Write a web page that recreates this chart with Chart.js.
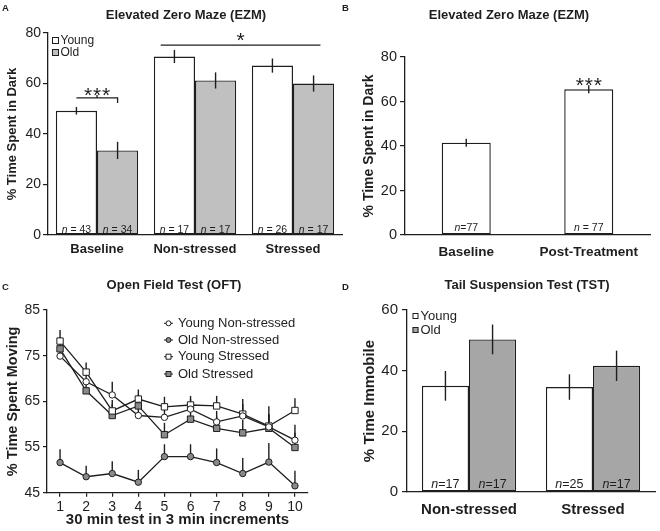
<!DOCTYPE html>
<html><head><meta charset="utf-8">
<script src="https://cdn.jsdelivr.net/npm/chart.js@4.4.1/dist/chart.umd.min.js"></script>
<style>
html,body{margin:0;padding:0;background:#fff;}
#wrap{position:relative;width:660px;height:531px;overflow:hidden;background:#fff;}
canvas{position:absolute;}
</style></head><body>
<div id="wrap">
<canvas id="cA" width="345" height="268" style="left:0;top:0"></canvas>
<canvas id="cB" width="330" height="268" style="left:330px;top:0"></canvas>
<canvas id="cC" width="330" height="261" style="left:0;top:270px"></canvas>
<canvas id="cD" width="330" height="261" style="left:330px;top:270px"></canvas>
</div>
<script>
// ---------- DATA ----------
// Panel A: Elevated Zero Maze (EZM)
const aCategories = ['Baseline', 'Non-stressed', 'Stressed'];
const aYoung = [49.2, 70.7, 67.1];
const aYoungErr = [1.5, 2.6, 2.8];
const aOld = [33.5, 61.2, 60.0];
const aOldErr = [3.4, 3.2, 3.2];
const aYoungN = ['43', '17', '26'];
const aOldN = ['34', '17', '17'];
const aTicks = [0, 20, 40, 60, 80];

// Panel B: Elevated Zero Maze (EZM)
const bCategories = ['Baseline', 'Post-Treatment'];
const bValues = [41.5, 65.5];
const bErr = [1.8, 1.8];
const bN = ['n=77', 'n = 77'];
const bTicks = [0, 20, 40, 60, 80];

// Panel C: Open Field Test (OFT)
const cIntervals = ['1', '2', '3', '4', '5', '6', '7', '8', '9', '10'];
const cYoungNonStressed = [74.9, 69.3, 66.4, 61.9, 61.5, 63.3, 60.5, 61.8, 59.4, 56.5];
const cYoungNonStressedErr = [2.3, 2.3, 2.9, 2.3, 2.3, 2.2, 2.4, 2.6, 2.8, 3.4];
const cOldNonStressed = [51.6, 48.5, 49.2, 47.3, 52.9, 52.9, 51.6, 49.2, 51.7, 46.5];
const cOldNonStressedErr = [2.9, 2.4, 2.7, 2.7, 2.7, 2.7, 3.1, 3.4, 4.2, 3.3];
const cYoungStressed = [78.2, 71.4, 62.9, 65.5, 63.8, 64.2, 64.0, 62.2, 59.6, 63.0];
const cYoungStressedErr = [2.4, 2.1, 2.4, 2.1, 2.2, 2.0, 2.2, 3.3, 4.3, 2.7];
const cOldStressed = [76.5, 67.3, 61.9, 64.0, 57.7, 61.1, 59.1, 58.1, 59.1, 54.9];
const cOldStressedErr = [2.5, 2.4, 2.5, 2.5, 2.6, 2.4, 2.6, 2.8, 3.0, 3.2];
const cTicks = [45, 55, 65, 75, 85];

// Panel D: Tail Suspension Test (TST)
const dCategories = ['Non-stressed', 'Stressed'];
const dYoung = [35.0, 34.6];
const dYoungErr = [4.9, 4.2];
const dOld = [50.3, 41.6];
const dOldErr = [4.9, 5.0];
const dYoungN = ['17', '25'];
const dOldN = ['17', '17'];
const dTicks = [0, 20, 40, 60];

// ---------- STYLE HELPERS ----------
const INK = '#1e1e1e';
const FAM = '"Liberation Sans", Arial, Helvetica, sans-serif';
Chart.defaults.font.family = FAM;
Chart.defaults.color = INK;
function F(size, weight, style) { return (style || 'normal') + ' ' + (weight || 'normal') + ' ' + size + 'px ' + FAM; }

function txt(ctx, s, x, y, f, align) {
  ctx.font = f; ctx.fillStyle = INK; ctx.textAlign = align || 'center'; ctx.textBaseline = 'middle';
  ctx.fillText(s, x, y);
}
function glyphCentered(ctx, s, x, cy, f) {
  ctx.font = f; ctx.fillStyle = INK; ctx.textAlign = 'center'; ctx.textBaseline = 'alphabetic';
  const m = ctx.measureText(s);
  ctx.fillText(s, x, cy + (m.actualBoundingBoxAscent - m.actualBoundingBoxDescent) / 2);
}
function stars(ctx, n, x, cy, size, gap) {
  const total = (n - 1) * gap;
  for (let i = 0; i < n; i++) glyphCentered(ctx, '*', x - total / 2 + i * gap, cy, F(size));
}
function nLabel(ctx, rest, x, y, size) {
  ctx.textBaseline = 'middle'; ctx.fillStyle = INK;
  ctx.font = F(size, 'normal', 'italic'); const w1 = ctx.measureText('n').width;
  ctx.font = F(size); const w2 = ctx.measureText(rest).width;
  const x0 = x - (w1 + w2) / 2;
  ctx.textAlign = 'left';
  ctx.font = F(size, 'normal', 'italic'); ctx.fillText('n', x0, y);
  ctx.font = F(size); ctx.fillText(rest, x0 + w1, y);
}
function box(ctx, x, y, w, h, fill) {
  ctx.fillStyle = fill; ctx.fillRect(x, y, w, h);
  ctx.strokeStyle = INK; ctx.lineWidth = 1; ctx.strokeRect(x + 0.5, y + 0.5, w - 1, h - 1);
}

function yScale(ticks, tickSize, title, titleSize, titlePad, width, tickLen, tickPad) {
  return {
    min: ticks[0], max: ticks[ticks.length - 1],
    afterBuildTicks(s) { s.ticks = ticks.map(v => ({ value: v })); },
    ticks: { font: { size: tickSize }, padding: tickPad, color: INK },
    grid: { display: true, drawOnChartArea: false, drawTicks: true, tickLength: tickLen, color: INK, lineWidth: 1.2 },
    border: { display: true, color: INK, width: 1.3 },
    title: { display: true, text: title, color: INK, font: { size: titleSize, weight: 'bold' }, padding: { top: titlePad, bottom: 0 } },
    afterFit(s) { s.width = width; }
  };
}
function xCat(size, pad, height) {
  return {
    grid: { display: false, drawTicks: false },
    border: { display: true, color: INK, width: 1.3 },
    ticks: { font: { size: size, weight: 'bold' }, padding: pad, color: INK },
    afterFit(s) { s.height = height; }
  };
}
function barDs(label, data, fill, catPct, barPct) {
  return { label, data, backgroundColor: fill, borderColor: INK, borderWidth: 1.4, borderSkipped: false,
    categoryPercentage: catPct, barPercentage: barPct };
}
function errPlugin(errs, upOnly, before) {
  const draw = function (chart) {
    const ctx = chart.ctx, ys = chart.scales.y;
    ctx.save(); ctx.strokeStyle = INK; ctx.lineWidth = 1.4;
    chart.data.datasets.forEach((ds, di) => {
      const meta = chart.getDatasetMeta(di);
      meta.data.forEach((el, i) => {
        const v = ds.data[i], e = errs[di][i];
        const y1 = ys.getPixelForValue(v + e), y2 = ys.getPixelForValue(upOnly ? v : v - e);
        ctx.beginPath(); ctx.moveTo(el.x, y1); ctx.lineTo(el.x, y2); ctx.stroke();
      });
    });
    ctx.restore();
  };
  return before ? { id: 'errB', beforeDatasetsDraw: draw } : { id: 'errA', afterDatasetsDraw: draw };
}
const base = { responsive: false, animation: false, events: [],
  plugins: { legend: { display: false }, tooltip: { enabled: false }, title: { display: false } } };

// ---------- PANEL A ----------
new Chart(document.getElementById('cA'), {
  type: 'bar',
  data: { labels: aCategories, datasets: [
    barDs('Young', aYoung, '#ffffff', 0.84, 1.0),
    barDs('Old', aOld, '#c0c0c0', 0.84, 1.0)] },
  options: Object.assign({}, base, {
    layout: { padding: { top: 33, right: 3, bottom: 0, left: 0 } },
    scales: { x: xCat(13, 7, 33), y: yScale(aTicks, 14, '% Time Spent in Dark', 13, 4.2, 48, 5, 2) }
  }),
  plugins: [errPlugin([aYoungErr, aOldErr], false, false), {
    id: 'decoA',
    afterDraw(chart) {
      const ctx = chart.ctx, ys = chart.scales.y, xs = chart.scales.x;
      const m0 = chart.getDatasetMeta(0).data, m1 = chart.getDatasetMeta(1).data;
      ctx.save();
      txt(ctx, 'A', 2, 8, F(9.5, 'bold'), 'left');
      txt(ctx, 'Elevated Zero Maze (EZM)', 186, 15, F(13, 'bold'));
      // legend
      box(ctx, 52, 37, 7, 7, '#ffffff'); txt(ctx, 'Young', 60.5, 41, F(12), 'left');
      box(ctx, 52, 49, 7, 7, '#c0c0c0'); txt(ctx, 'Old', 60.5, 53, F(12), 'left');
      // n labels
      m0.forEach((el, i) => nLabel(ctx, ' = ' + aYoungN[i], el.x, 230, 10.5));
      m1.forEach((el, i) => nLabel(ctx, ' = ' + aOldN[i], el.x, 230, 10.5));
      // *** bracket baseline
      ctx.strokeStyle = INK; ctx.lineWidth = 1.3;
      const by = ys.getPixelForValue(54.3), bx1 = m0[0].x, bx2 = m1[0].x;
      ctx.beginPath(); ctx.moveTo(bx1, by); ctx.lineTo(bx2, by); ctx.lineTo(bx2, by + 5); ctx.stroke();
      const mid = (bx1 + bx2) / 2;
      ctx.beginPath(); ctx.moveTo(mid, by); ctx.lineTo(mid, by - 3); ctx.stroke();
      stars(ctx, 3, mid, ys.getPixelForValue(56.8), 21, 9);
      // * line over treatment groups
      const cw = xs.getPixelForValue(1) - xs.getPixelForValue(0);
      const lx1 = xs.getPixelForValue(1) - 0.35 * cw, lx2 = xs.getPixelForValue(2) + 0.28 * cw;
      const ly = ys.getPixelForValue(75.2);
      ctx.beginPath(); ctx.moveTo(lx1, ly); ctx.lineTo(lx2, ly); ctx.stroke();
      stars(ctx, 1, (lx1 + lx2) / 2, ys.getPixelForValue(78.3), 21, 9);
      ctx.restore();
    }
  }]
});

// ---------- PANEL B ----------
new Chart(document.getElementById('cB'), {
  type: 'bar',
  data: { labels: bCategories, datasets: [barDs('EZM', bValues, '#ffffff', 0.4, 1.0)] },
  options: Object.assign({}, base, {
    layout: { padding: { top: 57, right: 10, bottom: 0, left: 0 } },
    scales: { x: xCat(13.5, 9, 33), y: yScale(bTicks, 14.5, '% Time Spent in Dark', 14, 30.6, 75, 5, 3) }
  }),
  plugins: [errPlugin([bErr], false, false), {
    id: 'decoB',
    afterDraw(chart) {
      const ctx = chart.ctx, ys = chart.scales.y;
      const m0 = chart.getDatasetMeta(0).data;
      ctx.save();
      txt(ctx, 'B', 12, 8, F(9.5, 'bold'), 'left');
      txt(ctx, 'Elevated Zero Maze (EZM)', 179, 15, F(13, 'bold'));
      m0.forEach((el, i) => nLabel(ctx, bN[i].slice(1), el.x, 228.5, 10.5));
      stars(ctx, 3, m0[1].x, ys.getPixelForValue(68.9), 21, 9);
      ctx.restore();
    }
  }]
});

// ---------- PANEL C ----------
const grayMk = '#8a8a8a';
function lineDs(label, data, style, fill, r) {
  return { label, data, borderColor: INK, borderWidth: 1.3, fill: false, tension: 0,
    pointStyle: style, pointRadius: r, pointBackgroundColor: fill, pointBorderColor: INK, pointBorderWidth: 1 };
}
const cSeries = [
  { label: 'Young Non-stressed', style: 'circle', fill: '#ffffff' },
  { label: 'Old Non-stressed', style: 'circle', fill: grayMk },
  { label: 'Young Stressed', style: 'rect', fill: '#ffffff' },
  { label: 'Old Stressed', style: 'rect', fill: grayMk }
];
new Chart(document.getElementById('cC'), {
  type: 'line',
  data: { labels: cIntervals, datasets: [
    lineDs(cSeries[0].label, cYoungNonStressed, 'circle', '#ffffff', 3.2),
    lineDs(cSeries[1].label, cOldNonStressed, 'circle', grayMk, 3.2),
    lineDs(cSeries[2].label, cYoungStressed, 'rect', '#ffffff', 4.5),
    lineDs(cSeries[3].label, cOldStressed, 'rect', grayMk, 4.5)] },
  options: Object.assign({}, base, {
    layout: { padding: { top: 40, right: 22, bottom: 0, left: 0 } },
    scales: {
      x: {
        offset: true,
        grid: { display: true, drawOnChartArea: false, drawTicks: true, tickLength: 4, color: INK, lineWidth: 1.2, offset: false },
        border: { display: true, color: INK, width: 1.3 },
        ticks: { font: { size: 14 }, padding: 2, color: INK, autoSkip: false, maxRotation: 0 },
        title: { display: true, text: '30 min test in 3 min increments', color: INK, font: { size: 15, weight: 'bold' }, padding: { top: 0, bottom: 2 } },
        afterFit(s) { s.height = 38.3; }
      },
      y: yScale(cTicks, 14, '% Time Spent Moving', 14.5, 4.3, 47, 4, 3)
    }
  }),
  plugins: [errPlugin([cYoungNonStressedErr, cOldNonStressedErr, cYoungStressedErr, cOldStressedErr], true, true), {
    id: 'decoC',
    afterDraw(chart) {
      const ctx = chart.ctx;
      ctx.save();
      txt(ctx, 'C', 2, 17, F(9.5, 'bold'), 'left');
      txt(ctx, 'Open Field Test (OFT)', 174, 15, F(13, 'bold'));
      const ys = [53.3, 70, 86.7, 104];
      cSeries.forEach((s, i) => {
        const y = ys[i];
        ctx.strokeStyle = INK; ctx.lineWidth = 1;
        ctx.beginPath(); ctx.moveTo(164, y); ctx.lineTo(173, y); ctx.stroke();
        ctx.fillStyle = s.fill; ctx.beginPath();
        if (s.style === 'circle') ctx.arc(168.5, y, 2.5, 0, Math.PI * 2);
        else ctx.rect(166, y - 2.5, 5, 5);
        ctx.fill(); ctx.stroke();
        txt(ctx, s.label, 178, y, F(13), 'left');
      });
      ctx.restore();
    }
  }]
});

// ---------- PANEL D ----------
new Chart(document.getElementById('cD'), {
  type: 'bar',
  data: { labels: dCategories, datasets: [
    barDs('Young', dYoung, '#ffffff', 0.76, 1.0),
    barDs('Old', dOld, '#a6a6a6', 0.76, 1.0)] },
  options: Object.assign({}, base, {
    layout: { padding: { top: 40, right: 5, bottom: 0, left: 0 } },
    scales: { x: xCat(15, 9, 39), y: yScale(dTicks, 15, '% Time Immobile', 15, 31, 77, 5, 4) }
  }),
  plugins: [errPlugin([dYoungErr, dOldErr], false, false), {
    id: 'decoD',
    afterDraw(chart) {
      const ctx = chart.ctx;
      const m0 = chart.getDatasetMeta(0).data, m1 = chart.getDatasetMeta(1).data;
      ctx.save();
      txt(ctx, 'D', 12, 17, F(9.5, 'bold'), 'left');
      txt(ctx, 'Tail Suspension Test (TST)', 197, 15, F(13, 'bold'));
      box(ctx, 82.5, 43, 6, 6, '#ffffff'); txt(ctx, 'Young', 90.5, 46.5, F(13), 'left');
      box(ctx, 82.5, 57, 6, 6, '#a6a6a6'); txt(ctx, 'Old', 90.5, 60.5, F(13), 'left');
      m0.forEach((el, i) => nLabel(ctx, '=' + dYoungN[i], el.x, 215, 12.5));
      m1.forEach((el, i) => nLabel(ctx, '=' + dOldN[i], el.x, 215, 12.5));
      ctx.restore();
    }
  }]
});
</script>
</body></html>
